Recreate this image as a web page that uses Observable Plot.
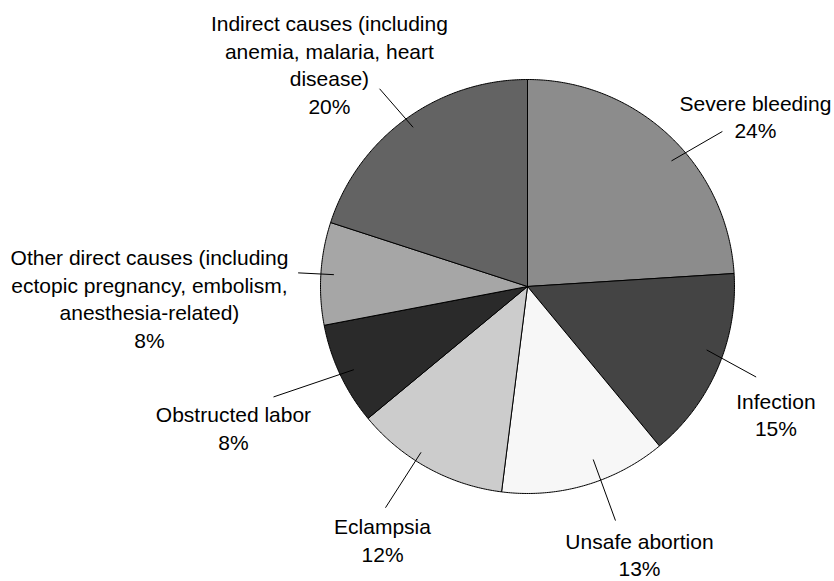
<!DOCTYPE html>
<html>
<head>
<meta charset="utf-8">
<script src="https://cdn.jsdelivr.net/npm/d3@7"></script>
<script src="https://cdn.jsdelivr.net/npm/@observablehq/plot@0.6"></script>
<style>
  html, body { margin: 0; padding: 0; background: #fff; }
  #chart svg { display: block; }
</style>
</head>
<body>
<div id="chart"></div>
<script>
// ---- data ----
const categories = ["Severe bleeding", "Infection", "Unsafe abortion", "Eclampsia", "Obstructed labor", "Other direct causes", "Indirect causes"];
const values = [24, 15, 13, 12, 8, 8, 20];
const labelLines = [
  ["Severe bleeding"],
  ["Infection"],
  ["Unsafe abortion"],
  ["Eclampsia"],
  ["Obstructed labor"],
  ["Other direct causes (including", "ectopic pregnancy, embolism,", "anesthesia-related)"],
  ["Indirect causes (including", "anemia, malaria, heart", "disease)"]
];
const colors = ["#8c8c8c", "#444444", "#f7f7f7", "#cccccc", "#2a2a2a", "#a6a6a6", "#636363"];

// ---- layout (polar, angle in degrees clockwise from top, radius in pie radii) ----
const labelLayout = [[53.15, 1.376], [117.1, 1.348], [157.25, 1.399], [209.85, 1.407], [244.4, 1.575], [268.3, 1.827], [318.35, 1.44]];
const leaderLayout = [
  [48.9, 0.923, 51.5, 1.203],
  [109.5, 0.918, 111.6, 1.188],
  [159.2, 0.894, 159.4, 1.208],
  [212.7, 0.952, 212.7, 1.27],
  [244.4, 0.93, 246.5, 1.338],
  [273.5, 0.937, 273.4, 1.11],
  [324.3, 0.947, 323.2, 1.193]
];

const W = 834, H = 581, CX = 527, CY = 286, R = 207;
const rad = d => d * Math.PI / 180;
const pt = (a, r) => ({x: r * Math.sin(rad(a)), y: r * Math.cos(rad(a))});

const total = d3.sum(values);
const slices = [];
let acc = 0;
categories.forEach((c, i) => {
  const a0 = acc / total * 360, a1 = (acc + values[i]) / total * 360;
  acc += values[i];
  slices.push({x: 0, y: 0, cat: c});
  const n = Math.max(2, Math.ceil((a1 - a0) / 0.5));
  for (let k = 0; k <= n; k++) {
    const p = pt(a0 + (a1 - a0) * k / n, 1);
    slices.push({x: p.x, y: p.y, cat: c});
  }
  slices.push({x: 0, y: 0, cat: c});
});

const labels = categories.map((c, i) => {
  const p = pt(labelLayout[i][0], labelLayout[i][1]);
  return {x: p.x, y: p.y, text: [...labelLines[i], values[i] + "%"].join("\n")};
});
const leaders = categories.map((c, i) => {
  const [a1, r1, a2, r2] = leaderLayout[i];
  const p1 = pt(a1, r1), p2 = pt(a2, r2);
  return {x1: p1.x, y1: p1.y, x2: p2.x, y2: p2.y};
});

const chart = Plot.plot({
  width: W, height: H,
  marginTop: 0, marginRight: 0, marginBottom: 0, marginLeft: 0,
  x: {domain: [-CX / R, (W - CX) / R], axis: null},
  y: {domain: [-(H - CY) / R, CY / R], axis: null},
  color: {type: "ordinal", domain: categories, range: colors},
  style: {fontFamily: "Liberation Sans, Arial, Helvetica, sans-serif", background: "#fff"},
  marks: [
    Plot.line(slices, {x: "x", y: "y", z: "cat", fill: "cat", stroke: "#000", strokeWidth: 1, curve: "linear"}),
    Plot.link(leaders, {x1: "x1", y1: "y1", x2: "x2", y2: "y2", stroke: "#000", strokeWidth: 1}),
    Plot.text(labels, {x: "x", y: "y", text: "text", textAnchor: "middle", lineAnchor: "middle", lineHeight: 1.31, fontSize: 21, fill: "#000"})
  ]
});
document.getElementById("chart").appendChild(chart);
</script>
</body>
</html>
